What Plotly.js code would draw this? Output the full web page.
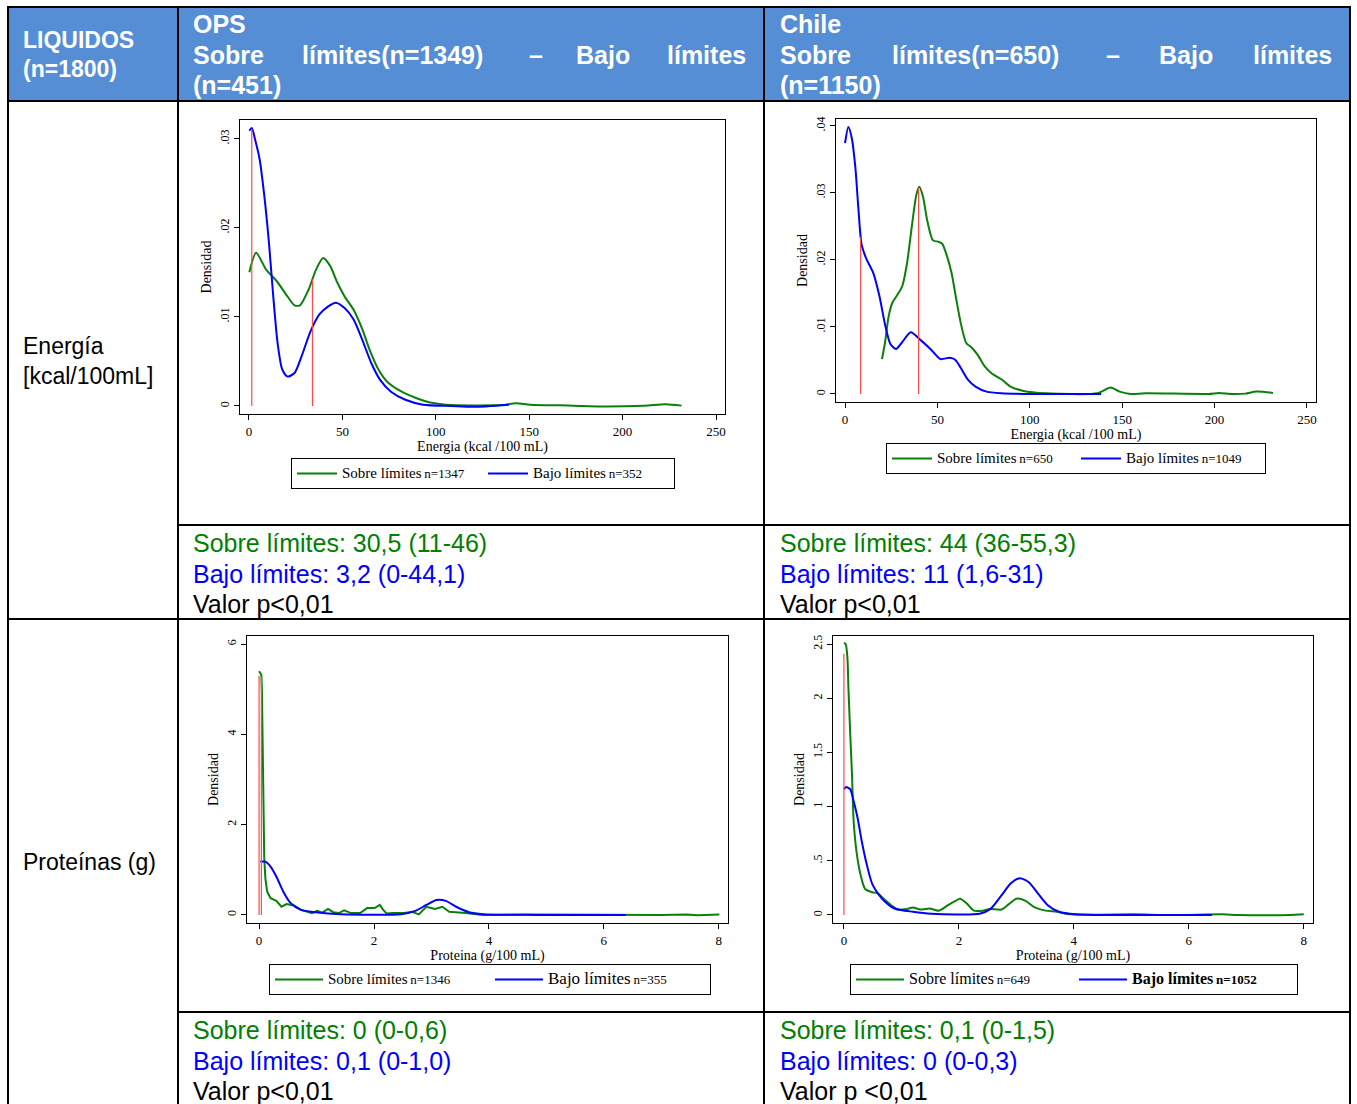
<!DOCTYPE html>
<html><head><meta charset="utf-8">
<script src="https://cdn.plot.ly/plotly-3.0.1.min.js"></script>
<style>html,body{margin:0;padding:0;background:#fff}</style>
</head><body><div id="chart" style="width:1357px;height:1104px"></div>
<script>
// ---------- DATA ----------
// Energy, OPS
const enOpsSobreX = [0.2, 3.8, 9.2, 14.9, 20.6, 24.4, 27.3, 32, 35.9, 39.7, 43.5, 47.4, 51.2, 56, 60.7, 64.6, 69.3, 74.1, 81.8, 89.4, 97, 108.5, 135, 143, 150.5, 173.5, 188.7, 211.6, 223, 231.6];
const enOpsSobreY = [0.0150, 0.0172, 0.0153, 0.0140, 0.0123, 0.0113, 0.0113, 0.0131, 0.0153, 0.0166, 0.0157, 0.0138, 0.0123, 0.0108, 0.0086, 0.0063, 0.0041, 0.0027, 0.0016, 0.0009, 0.0004, 0.0001, 0.0001, 0.0003, 0.00015, 0.00004, -0.00005, 0.00004, 0.0002, 0.00004];
const enOpsBajoX = [0.2, 1.5, 3.4, 5.7, 8.2, 10.7, 13, 15.3, 17.8, 20.6, 24.4, 28.2, 33, 37.8, 42.6, 46.4, 51.2, 56, 60.7, 65.5, 70.3, 76, 83.7, 93.2, 108.5, 120, 139.1];
const enOpsBajoY = [0.0309, 0.0312, 0.0298, 0.0277, 0.0236, 0.0183, 0.0123, 0.0071, 0.0041, 0.0033, 0.0037, 0.0056, 0.0084, 0.0103, 0.0112, 0.0116, 0.0110, 0.0097, 0.0074, 0.0048, 0.0029, 0.0016, 0.0007, 0.00015, 0, -0.0001, 0.00015];
const enOpsRefX = [1.5, 34];
const enOpsRefTop = [0.0311, 0.0142];
// Energy, Chile
const enChSobreX = [20, 21.6, 23.6, 25.6, 28.6, 31, 33.6, 36, 38.6, 40.2, 42.2, 44.6, 47.6, 50.6, 52.6, 55, 57.6, 60.2, 62.6, 65.6, 68.6, 71.6, 75.6, 79.6, 84.6, 89.6, 96.6, 108.6, 136.6, 143.6, 148.6, 154.6, 162.6, 196.6, 202.6, 208.6, 216.6, 222.6, 231.6];
const enChSobreY = [0.0052, 0.0076, 0.0116, 0.0136, 0.0149, 0.0161, 0.0196, 0.0247, 0.0297, 0.0309, 0.0294, 0.0257, 0.0229, 0.0227, 0.0224, 0.0207, 0.0181, 0.0141, 0.0106, 0.0076, 0.0069, 0.0059, 0.0041, 0.0030, 0.0022, 0.0011, 0.00045, 0.0001, 0.0001, 0.00095, 0.00035, 0, 0.0001, 0, 0.00015, 0, 0.00005, 0.00035, 0.00015];
const enChBajoX = [0, 1.8, 3.6, 5.6, 7.2, 9, 11.6, 15.2, 18.6, 21.6, 24.6, 27.6, 30.6, 35.6, 40.6, 46.6, 51.6, 56.6, 59.6, 62.6, 66.6, 70.6, 76.6, 84.6, 96.6, 138.6];
const enChBajoY = [0.0374, 0.0398, 0.0382, 0.0337, 0.0277, 0.0222, 0.0201, 0.0181, 0.0146, 0.0104, 0.0074, 0.0067, 0.0076, 0.0092, 0.0081, 0.0066, 0.0052, 0.0054, 0.0051, 0.0039, 0.0021, 0.0011, 0.00035, 0.0001, 0, 0];
const enChRefX = [8.4, 39.8];
const enChRefTop = [0.0234, 0.0307];
// Protein, OPS
const prOpsSobreX = [0, 0.04, 0.05, 0.06, 0.08, 0.09, 0.11, 0.14, 0.2, 0.3, 0.39, 0.48, 0.61, 0.73, 0.92, 1.01, 1.1, 1.2, 1.29, 1.39, 1.48, 1.6, 1.76, 1.88, 2.01, 2.1, 2.16, 2.22, 2.32, 2.53, 2.66, 2.78, 2.91, 3.06, 3.19, 3.31, 3.59, 3.9, 4.83, 6.07, 6.7, 7.0, 7.44, 7.63, 8.01];
const prOpsSobreY = [5.40, 5.32, 4.95, 3.84, 2.44, 1.26, 0.81, 0.52, 0.37, 0.31, 0.18, 0.24, 0.21, 0.11, 0.04, 0.09, 0.05, 0.13, 0.06, 0.04, 0.10, 0.04, 0.04, 0.15, 0.15, 0.22, 0.11, 0.03, 0.04, 0.04, 0.07, 0.01, 0.18, 0.13, 0.18, 0.07, 0.04, 0, 0.01, 0, 0.01, 0, 0.01, -0.01, 0.01];
const prOpsBajoX = [0.02, 0.11, 0.2, 0.3, 0.42, 0.55, 0.73, 0.98, 1.42, 2.47, 2.72, 2.91, 3.09, 3.25, 3.43, 3.65, 3.9, 4.83, 6.38];
const prOpsBajoY = [1.18, 1.18, 1.07, 0.85, 0.52, 0.26, 0.11, 0.06, 0.015, 0.015, 0.09, 0.22, 0.33, 0.31, 0.18, 0.06, 0.015, 0, 0];
const prOpsRefX = [0, 0.04];
const prOpsRefTop = [5.3, 5.3];
// Protein, Chile
const prChSobreX = [0, 0.03, 0.06, 0.08, 0.11, 0.14, 0.17, 0.22, 0.29, 0.37, 0.49, 0.59, 0.69, 0.82, 0.94, 1.1, 1.2, 1.33, 1.49, 1.65, 1.81, 1.94, 2.02, 2.13, 2.26, 2.42, 2.55, 2.74, 2.87, 3.0, 3.16, 3.32, 3.51, 3.7, 3.96, 5.05, 5.7, 6.59, 6.85, 7.75, 8.0];
const prChSobreY = [2.51, 2.50, 2.38, 2.07, 1.67, 1.30, 0.86, 0.58, 0.37, 0.24, 0.21, 0.20, 0.15, 0.09, 0.05, 0.056, 0.07, 0.05, 0.06, 0.04, 0.09, 0.13, 0.15, 0.11, 0.04, 0.04, 0.056, 0.05, 0.10, 0.15, 0.13, 0.07, 0.04, 0.03, 0.006, 0.006, 0, 0.006, 0, 0, 0.006];
const prChBajoX = [0, 0.04, 0.11, 0.17, 0.24, 0.31, 0.4, 0.49, 0.59, 0.72, 0.88, 1.2, 1.52, 2.36, 2.55, 2.74, 2.9, 3.06, 3.22, 3.38, 3.54, 3.74, 4.03, 4.41, 6.4];
const prChBajoY = [1.16, 1.18, 1.16, 1.05, 0.89, 0.68, 0.46, 0.29, 0.20, 0.12, 0.06, 0.03, 0.012, 0.012, 0.056, 0.18, 0.29, 0.34, 0.30, 0.195, 0.093, 0.03, 0.006, 0, 0];
const prChRefX = [0];
const prChRefTop = [2.41];

// Legend sample sizes
const nSobre = [1347, 650, 1346, 649];
const nBajo = [352, 1049, 355, 1052];

// Tick labels
const enOpsYVals = [0, 0.01, 0.02, 0.03];
const enOpsYText = ['0', '.01', '.02', '.03'];
const enChYVals = [0, 0.01, 0.02, 0.03, 0.04];
const enChYText = ['0', '.01', '.02', '.03', '.04'];
const prOpsYVals = [0, 2, 4, 6];
const prOpsYText = ['0', '2', '4', '6'];
const prChYVals = [0, 0.5, 1, 1.5, 2, 2.5];
const prChYText = ['0', '.5', '1', '1.5', '2', '2.5'];
const enXVals = [0, 50, 100, 150, 200, 250];
const prXVals = [0, 2, 4, 6, 8];

// Table text
const rowLabels = ['Energía<br>[kcal/100mL]', 'Proteínas (g)'];
const sobreStats = ['30,5 (11-46)', '44 (36-55,3)', '0 (0-0,6)', '0,1 (0-1,5)'];
const bajoStats = ['3,2 (0-44,1)', '11 (1,6-31)', '0,1 (0-1,0)', '0 (0-0,3)'];
const pTexts = ['Valor p<0,01', 'Valor p<0,01', 'Valor p<0,01', 'Valor p <0,01'];

// ---------- LAYOUT HELPERS ----------
const W = 1357, H = 1104;
const PX = x => x / W;
const PY = y => 1 - y / H;
const GREEN = '#0a800a', BLUE = '#0000ff', RED = '#ff4a4a';
const SERIF = 'Liberation Serif, Times New Roman, serif';
const SANS = 'Liberation Sans, Arial, sans-serif';

function refTrace(xs, tops, xa, ya) {
  const x = [], y = [];
  xs.forEach((v, i) => { x.push(v, v, null); y.push(0, tops[i], null); });
  return {x, y, xaxis: xa, yaxis: ya, mode: 'lines', line: {color: RED, width: 1.2}, showlegend: false, hoverinfo: 'skip'};
}
function curve(x, y, xa, ya, color, name, leg, spline) {
  return {x, y, xaxis: xa, yaxis: ya, mode: 'lines', name, legend: leg,
    line: {color, width: 2, shape: spline ? 'spline' : 'linear', smoothing: 0.7}};
}
const nm = (label, n, lsz, sz) => `<span style="font-size:${lsz}px">${label}</span> <span style="font-size:${sz}px">n=${n}</span>`;

const traces = [
  curve(enOpsSobreX, enOpsSobreY, 'x', 'y', GREEN, nm('Sobre límites', nSobre[0], 15, 13), 'legend', true),
  curve(enOpsBajoX, enOpsBajoY, 'x', 'y', BLUE, nm('Bajo límites', nBajo[0], 15, 13), 'legend', true),
  refTrace(enOpsRefX, enOpsRefTop, 'x', 'y'),
  curve(enChSobreX, enChSobreY, 'x2', 'y2', GREEN, nm('Sobre límites', nSobre[1], 15, 13), 'legend2', true),
  curve(enChBajoX, enChBajoY, 'x2', 'y2', BLUE, nm('Bajo límites', nBajo[1], 15, 13), 'legend2', true),
  refTrace(enChRefX, enChRefTop, 'x2', 'y2'),
  curve(prOpsSobreX, prOpsSobreY, 'x3', 'y3', GREEN, nm('Sobre límites', nSobre[2], 15, 13), 'legend3', false),
  curve(prOpsBajoX, prOpsBajoY, 'x3', 'y3', BLUE, nm('Bajo límites', nBajo[2], 17, 13), 'legend3', true),
  refTrace(prOpsRefX, prOpsRefTop, 'x3', 'y3'),
  curve(prChSobreX, prChSobreY, 'x4', 'y4', GREEN, nm('Sobre límites', nSobre[3], 16, 13), 'legend4', true),
  curve(prChBajoX, prChBajoY, 'x4', 'y4', BLUE, '<b>' + nm('Bajo límites', nBajo[3], 16, 13) + '</b>', 'legend4', true),
  refTrace(prChRefX, prChRefTop, 'x4', 'y4')
];

function xax(l, r, range, vals, title, anchor) {
  return {domain: [PX(l), PX(r)], range, anchor, tickvals: vals, ticktext: vals.map(String),
    showline: true, mirror: true, linecolor: '#000', linewidth: 1, ticks: 'outside', ticklen: 5, tickcolor: '#000',
    showgrid: false, zeroline: false, tickfont: {family: SERIF, size: 13, color: '#000'},
    title: {text: title, font: {family: SERIF, size: 14, color: '#000'}, standoff: 1}, fixedrange: true};
}
function yax(t, b, range, vals, text, anchor) {
  return {domain: [PY(b), PY(t)], range, anchor, tickvals: vals, ticktext: text, tickangle: -90,
    showline: true, mirror: true, linecolor: '#000', linewidth: 1, ticks: 'outside', ticklen: 5, tickcolor: '#000',
    showgrid: false, zeroline: false, tickfont: {family: SERIF, size: 12, color: '#000'},
    title: {text: 'Densidad', font: {family: SERIF, size: 14, color: '#000'}, standoff: 3}, fixedrange: true};
}
function leg(cx, top, ew, iw) {
  return {x: PX(cx), y: PY(top), xanchor: 'center', yanchor: 'top', orientation: 'h',
    bordercolor: '#000', borderwidth: 1, bgcolor: '#fff', font: {family: SERIF, size: 11, color: '#000'},
    itemwidth: iw, entrywidth: ew, entrywidthmode: 'pixels', tracegroupgap: 0, valign: 'middle'};
}

// Table shapes
const shapes = [];
shapes.push({type: 'rect', xref: 'paper', yref: 'paper', x0: PX(8), x1: PX(1350), y0: PY(101), y1: PY(7), fillcolor: '#558ed5', line: {width: 0}, layer: 'below'});
const hl = (y, x0, x1) => shapes.push({type: 'line', xref: 'paper', yref: 'paper', x0: PX(x0), x1: PX(x1), y0: PY(y), y1: PY(y), line: {color: '#000', width: 2}});
const vl = (x, y0, y1) => shapes.push({type: 'line', xref: 'paper', yref: 'paper', x0: PX(x), x1: PX(x), y0: PY(y0), y1: PY(y1), line: {color: '#000', width: 2}});
hl(7, 7, 1351); hl(101, 7, 1351); hl(525, 178, 1351); hl(619, 7, 1351); hl(1012, 178, 1351);
vl(8, 7, 1104); vl(178, 7, 1104); vl(764, 7, 1104); vl(1350, 7, 1104);

// Annotations
const ann = [];
const txt = (x, y, text, size, color, bold) => ann.push({xref: 'paper', yref: 'paper', x: PX(x), y: PY(y), xanchor: 'left', yanchor: 'middle', align: 'left', showarrow: false,
  text: bold ? '<b>' + text + '</b>' : text, font: {family: SANS, size, color}});
// header
txt(21, 40, 'LIQUIDOS', 23, '#fff', true);
txt(21, 69, '(n=1800)', 23, '#fff', true);
const hdr = [
  [191, 'OPS', 'Sobre', 300, 'límites(n=1349)', 527, '–', 574, 'Bajo', 665, 'límites', '(n=451)'],
  [778, 'Chile', 'Sobre', 890, 'límites(n=650)', 1104, '–', 1157, 'Bajo', 1251, 'límites', '(n=1150)']
];
hdr.forEach(h => {
  txt(h[0], 24, h[1], 25, '#fff', true);
  txt(h[0], 55, h[2], 25, '#fff', true);
  txt(h[3], 55, h[4], 25, '#fff', true);
  txt(h[5], 55, h[6], 25, '#fff', true);
  txt(h[7], 55, h[8], 25, '#fff', true);
  txt(h[9], 55, h[10], 25, '#fff', true);
  txt(h[0], 85, h[11], 25, '#fff', true);
});
// row labels
ann.push({xref: 'paper', yref: 'paper', x: PX(21), y: PY(361), xanchor: 'left', yanchor: 'middle', align: 'left', showarrow: false,
  text: rowLabels[0], font: {family: SANS, size: 23, color: '#000'}});
txt(21, 862, rowLabels[1], 23, '#000', false);
// results cells
const cells = [[191, 543], [778, 543], [191, 1030], [778, 1030]];
cells.forEach((c, i) => {
  txt(c[0], c[1], 'Sobre límites: ' + sobreStats[i], 25, '#008000', false);
  txt(c[0], c[1] + 31, 'Bajo límites: ' + bajoStats[i], 25, '#0000ff', false);
  txt(c[0], c[1] + 61, pTexts[i], 25, '#000', false);
});

const layout = {
  width: W, height: H, margin: {l: 0, r: 0, t: 0, b: 0}, paper_bgcolor: '#fff', plot_bgcolor: '#fff',
  xaxis: xax(240, 725, [-4.8, 254.8], enXVals, 'Energia (kcal /100 mL)', 'y'),
  yaxis: yax(120, 414, [-0.0009, 0.0321], enOpsYVals, enOpsYText, 'x'),
  xaxis2: xax(836, 1316, [-4.9, 254.9], enXVals, 'Energia (kcal /100 mL)', 'y2'),
  yaxis2: yax(119, 402, [-0.0012, 0.041], enChYVals, enChYText, 'x2'),
  xaxis3: xax(247, 728, [-0.21, 8.16], prXVals, 'Proteina (g/100 mL)', 'y3'),
  yaxis3: yax(636, 923, [-0.18, 6.18], prOpsYVals, prOpsYText, 'x3'),
  xaxis4: xax(833, 1313, [-0.19, 8.16], prXVals, 'Proteina (g/100 mL)', 'y4'),
  yaxis4: yax(636, 923, [-0.074, 2.574], prChYVals, prChYText, 'x4'),
  legend: leg(483, 458, 136, 40),
  legend2: leg(1076, 443, 134, 40),
  legend3: leg(490, 964, 157, 48),
  legend4: leg(1074, 964, 160, 48),
  shapes, annotations: ann, showlegend: true
};
Plotly.newPlot('chart', traces, layout, {staticPlot: true, displayModeBar: false});
</script></body></html>
